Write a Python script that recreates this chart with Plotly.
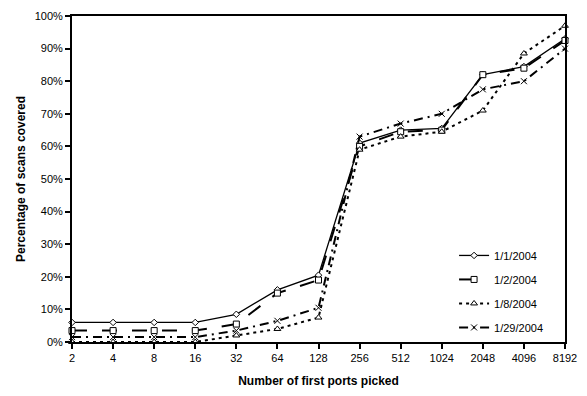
import plotly.graph_objects as go

ports = ["2", "4", "8", "16", "32", "64", "128", "256", "512", "1024", "2048", "4096", "8192"]
jan01 = [6, 6, 6, 6, 8.5, 16, 20.5, 61, 65, 65.5, 82, 84.5, 93]
jan02 = [3.5, 3.5, 3.5, 3.5, 5.5, 15, 19, 60, 64.5, 65, 82, 84, 92.5]
jan08 = [0, 0, 0, 0, 2, 4, 7.5, 59, 63, 64.5, 71, 88.5, 97]
jan29 = [1.5, 1.5, 1.5, 1.5, 3.5, 6.5, 10.5, 63, 67, 70, 77.5, 80, 90]

series = [
    ("1/1/2004", jan01, dict(width=1.3, dash="solid"), dict(symbol="diamond", size=5, color="white", line=dict(color="black", width=1))),
    ("1/2/2004", jan02, dict(width=2, dash="longdash"), dict(symbol="square", size=6, color="white", line=dict(color="black", width=1))),
    ("1/8/2004", jan08, dict(width=2, dash="3px,4px"), dict(symbol="triangle-up", size=6, color="white", line=dict(color="black", width=1))),
    ("1/29/2004", jan29, dict(width=2, dash="9px,5px,2px,5px"), dict(symbol="x-thin", size=6, color="black", line=dict(color="black", width=1))),
]

fig = go.Figure()
for name, vals, line, marker in series:
    fig.add_trace(go.Scatter(
        x=ports, y=vals, name=name, mode="lines+markers", legendgroup=name,
        line=dict(color="black", **line), marker=marker, cliponaxis=False,
    ))

fig.update_layout(
    width=587, height=396,
    margin=dict(l=72, r=14, t=10, b=50),
    paper_bgcolor="white", plot_bgcolor="white",
    font=dict(family="Liberation Sans, Arial, sans-serif", size=11, color="black"),
    showlegend=True,
    legend=dict(
        x=0.775, y=0.31, xanchor="left", yanchor="top",
        bgcolor="rgba(0,0,0,0)", borderwidth=0,
        font=dict(size=11), itemwidth=30, tracegroupgap=5,
    ),
)
fig.update_xaxes(
    type="category", range=[0, 12],
    showline=True, linecolor="black", linewidth=2, mirror=True,
    ticks="outside", ticklen=5, tickwidth=2, tickcolor="black",
    showgrid=False, zeroline=False,
    title=dict(text="<b>Number of first ports picked</b>", font=dict(size=12), standoff=13),
)
fig.update_yaxes(
    range=[0, 100], dtick=10, ticksuffix="%",
    showline=True, linecolor="black", linewidth=2, mirror=True,
    ticks="outside", ticklen=5, tickwidth=2, tickcolor="black",
    showgrid=False, zeroline=False,
    title=dict(text="<b>Percentage of scans covered</b>", font=dict(size=12), standoff=6),
)

fig.write_html("out.html")
